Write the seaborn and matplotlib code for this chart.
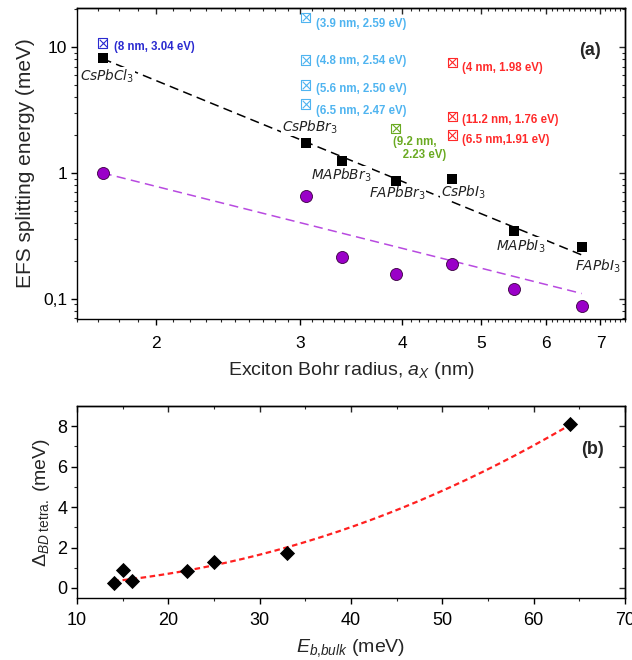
import numpy as np
import pandas as pd
import matplotlib
matplotlib.use("Agg")
import matplotlib.pyplot as plt
from matplotlib.ticker import FixedLocator, NullFormatter, FixedFormatter
import seaborn as sns

# ---------------- data ----------------
materials = [r"CsPbCl$_\mathit{3}$", r"CsPbBr$_\mathit{3}$", r"MAPbBr$_\mathit{3}$",
             r"FAPbBr$_\mathit{3}$", r"CsPbI$_\mathit{3}$", r"MAPbI$_\mathit{3}$",
             r"FAPbI$_\mathit{3}$"]
bohr_radius = [1.72, 3.05, 3.38, 3.93, 4.61, 5.49, 6.64]          # nm
efs_bulk = [8.2, 1.73, 1.24, 0.86, 0.90, 0.347, 0.259]            # meV (squares)
efs_nc = [1.0, 0.656, 0.215, 0.158, 0.19, 0.12, 0.088]            # meV (circles)
binding_energy = [64, 33, 25, 22, 15, 16, 14]                     # meV, panel (b)
delta_bd = [8.1, 1.73, 1.28, 0.84, 0.89, 0.35, 0.25]              # meV, panel (b)

# experimental nanocrystal points (crossed squares)
exp_groups = ["blue", "lightblue", "lightblue", "lightblue", "lightblue",
              "green", "red", "red", "red"]
exp_x = [1.72, 3.05, 3.05, 3.05, 3.05, 3.93, 4.61, 4.61, 4.61]
exp_y = [10.8, 17.3, 7.9, 5.0, 3.53, 2.27, 7.6, 2.83, 2.0]
exp_text = ["(8 nm, 3.04 eV)", "(3.9 nm, 2.59 eV)", "(4.8 nm, 2.54 eV)",
            "(5.6 nm, 2.50 eV)", "(6.5 nm, 2.47 eV)", "(9.2 nm,\n   2.23 eV)",
            "(4 nm, 1.98 eV)", "(11.2 nm, 1.76 eV)", "(6.5 nm,1.91 eV)"]

# dashed guide lines (power laws = straight in log-log)
fit_x = [1.72, 6.64]
fit_bulk_y = [8.1, 0.223]
fit_nc_y = [1.0, 0.11]
# panel (b) dashed curve: y = c * x**p, parameters
red_fit_coef = 0.0013
red_fit_exp = 2.1

group_colors = {"blue": "#2a2ad0", "lightblue": "#4fb4f0",
                "green": "#6aaa22", "red": "#ff2a2a"}

# ---------------- style ----------------
sns.set_theme(style="ticks")
plt.rcParams["font.family"] = ["Liberation Sans", "DejaVu Sans"]
plt.rcParams["mathtext.fontset"] = "custom"
plt.rcParams["mathtext.rm"] = "Liberation Sans"
plt.rcParams["mathtext.it"] = "Liberation Sans:italic"
plt.rcParams["mathtext.bf"] = "Liberation Sans:bold"
plt.rcParams["axes.linewidth"] = 1.0
plt.rcParams["axes.edgecolor"] = "black"

fig = plt.figure(figsize=(6.32, 6.60), dpi=100)
ax1 = fig.add_axes([0.1218, 0.5167, 0.867, 0.4712])
ax2 = fig.add_axes([0.1218, 0.0939, 0.867, 0.2909])

# ---------------- panel (a) ----------------
ax1.set_xscale("log")
ax1.set_yscale("log")

sns.lineplot(x=fit_x, y=fit_bulk_y, ax=ax1, color="black", lw=1.1, legend=False)
ax1.lines[-1].set_dashes([6, 3.5])
sns.lineplot(x=fit_x, y=fit_nc_y, ax=ax1, color="#b84ae0", lw=1.1, legend=False)
ax1.lines[-1].set_dashes([6, 3.5])

sns.scatterplot(x=bohr_radius, y=efs_bulk, ax=ax1, marker="s", s=52,
                color="black", edgecolor="black", linewidth=0, zorder=5)
sns.scatterplot(x=bohr_radius, y=efs_nc, ax=ax1, marker="o", s=75,
                color="#9a00c8", edgecolor="#3a0040", linewidth=0.6, zorder=5)

df_exp = pd.DataFrame({"x": exp_x, "y": exp_y, "g": exp_groups})
for g, sub in df_exp.groupby("g"):
    c = group_colors[g]
    sns.scatterplot(data=sub, x="x", y="y", ax=ax1, marker="s", s=44,
                    facecolor="none", edgecolor=c, linewidth=0.8, zorder=6)
    sns.scatterplot(data=sub, x="x", y="y", ax=ax1, marker="x", s=30,
                    color=c, linewidth=0.8, zorder=6)

# experimental labels
exp_offsets = [(8.5, -2.8), (7.2, -5.0), (7.2, -0.7), (7.2, -2.9), (7.2, -5.0),
               (-2.0, -5.5), (7.2, -4.3), (7.2, -2.9), (7.2, -3.6)]
for xi, yi, t, g, off in zip(exp_x, exp_y, exp_text, exp_groups, exp_offsets):
    ax1.annotate(t, (xi, yi), xytext=off, textcoords="offset points",
                 ha="left", va="top" if "\n" in t else "center",
                 fontsize=8.3, fontweight="bold", color=group_colors[g],
                 linespacing=1.15)

# material names
name_offsets = [(3, -13), (3, 11.5), (-1, -10), (1, -8.5), (8, -9.5), (5, -11), (11.5, -14)]
for xi, yi, t, off in zip(bohr_radius, efs_bulk, materials, name_offsets):
    ax1.annotate(t, (xi, yi), xytext=off, textcoords="offset points",
                 ha="center", va="center", fontsize=9.8, fontstyle="italic",
                 family="DejaVu Sans", math_fontfamily="dejavusans", color="#222222",
                 bbox=dict(facecolor="white", edgecolor="none", pad=0.5), zorder=4)

ax1.text(0.936, 0.862, "(a)", transform=ax1.transAxes, fontsize=13,
         fontweight="bold", ha="center", va="center")

ax1.set_xlim(1.6, 7.5)
ax1.set_ylim(0.069, 20.5)
major_x = [2, 3, 4, 5, 6, 7]
minor_x = [v / 10 for v in range(16, 76) if v % 10 != 0]
major_y = [0.1, 1, 10]
minor_y = [m * d for d in (0.01, 0.1, 1, 10) for m in range(2, 10)]
ax1.xaxis.set_major_locator(FixedLocator(major_x))
ax1.xaxis.set_major_formatter(FixedFormatter([str(v) for v in major_x]))
ax1.xaxis.set_minor_locator(FixedLocator(minor_x))
ax1.xaxis.set_minor_formatter(NullFormatter())
ax1.yaxis.set_major_locator(FixedLocator(major_y))
ax1.yaxis.set_major_formatter(FixedFormatter(["0,1", "1", "10"]))
ax1.yaxis.set_minor_locator(FixedLocator(minor_y))
ax1.yaxis.set_minor_formatter(NullFormatter())
ax1.tick_params(which="major", direction="out", length=4, width=1,
                labelsize=12.5, colors="black", pad=3)
ax1.tick_params(axis="x", which="major", pad=8)
ax1.tick_params(which="minor", direction="out", length=2.2, width=0.8)

sx = ax1.secondary_xaxis("top")
sx.xaxis.set_major_locator(FixedLocator(major_x))
sx.xaxis.set_minor_locator(FixedLocator(minor_x))
sx.tick_params(which="major", direction="in", length=4, width=1, labeltop=False)
sx.tick_params(which="minor", direction="in", length=2.2, width=0.8)
sx.xaxis.set_minor_formatter(NullFormatter())
sy = ax1.secondary_yaxis("right")
sy.yaxis.set_major_locator(FixedLocator(major_y))
sy.yaxis.set_minor_locator(FixedLocator(minor_y))
sy.tick_params(which="major", direction="in", length=4, width=1, labelright=False)
sy.tick_params(which="minor", direction="in", length=2.2, width=0.8)
sy.yaxis.set_minor_formatter(NullFormatter())

ax1.set_xlabel(r"Exciton Bohr radius, $a_X$ (nm)", fontsize=14, labelpad=7)
ax1.set_ylabel("EFS splitting energy (meV)", fontsize=15, labelpad=6)

# ---------------- panel (b) ----------------
curve_x = np.linspace(min(binding_energy), max(binding_energy), 200)
curve_y = red_fit_coef * curve_x ** red_fit_exp
sns.lineplot(x=curve_x, y=curve_y, ax=ax2, color="#ff2020", lw=1.6, legend=False)
ax2.lines[-1].set_dashes([2.5, 1.6])
sns.scatterplot(x=binding_energy, y=delta_bd, ax=ax2, marker="D", s=60,
                color="black", edgecolor="black", linewidth=0, zorder=5)

ax2.text(0.94, 0.771, "(b)", transform=ax2.transAxes, fontsize=13,
         fontweight="bold", ha="center", va="center")

ax2.set_xlim(10, 70)
ax2.set_ylim(-0.5, 9)
bx_major = list(range(10, 71, 10))
bx_minor = list(range(15, 70, 10))
by_major = [0, 2, 4, 6, 8]
by_minor = [1, 3, 5, 7]
ax2.xaxis.set_major_locator(FixedLocator(bx_major))
ax2.xaxis.set_minor_locator(FixedLocator(bx_minor))
ax2.yaxis.set_major_locator(FixedLocator(by_major))
ax2.yaxis.set_minor_locator(FixedLocator(by_minor))
ax2.tick_params(which="major", direction="out", length=4, width=1,
                labelsize=13, colors="black", pad=3)
ax2.tick_params(axis="x", which="major", pad=6)
ax2.tick_params(which="minor", direction="out", length=2.2, width=0.8)
tx = ax2.secondary_xaxis("top")
tx.xaxis.set_major_locator(FixedLocator(bx_major))
tx.xaxis.set_minor_locator(FixedLocator(bx_minor))
tx.tick_params(which="major", direction="in", length=4, width=1, labeltop=False)
tx.tick_params(which="minor", direction="in", length=2.2, width=0.8)
ty = ax2.secondary_yaxis("right")
ty.yaxis.set_major_locator(FixedLocator(by_major))
ty.yaxis.set_minor_locator(FixedLocator(by_minor))
ty.tick_params(which="major", direction="in", length=4, width=1, labelright=False)
ty.tick_params(which="minor", direction="in", length=2.2, width=0.8)

ax2.set_xlabel(r"$E_{b{,}bulk}$ (meV)", fontsize=14, labelpad=6)
ax2.set_ylabel(r"$\Delta_{BD\ \mathrm{tetra.}}$ (meV)", fontsize=14, labelpad=4)

for ax in (ax1, ax2):
    for sp in ax.spines.values():
        sp.set_visible(True)
        sp.set_color("black")
        sp.set_linewidth(1.0)

fig.savefig("out.png", dpi=100, facecolor="white")
